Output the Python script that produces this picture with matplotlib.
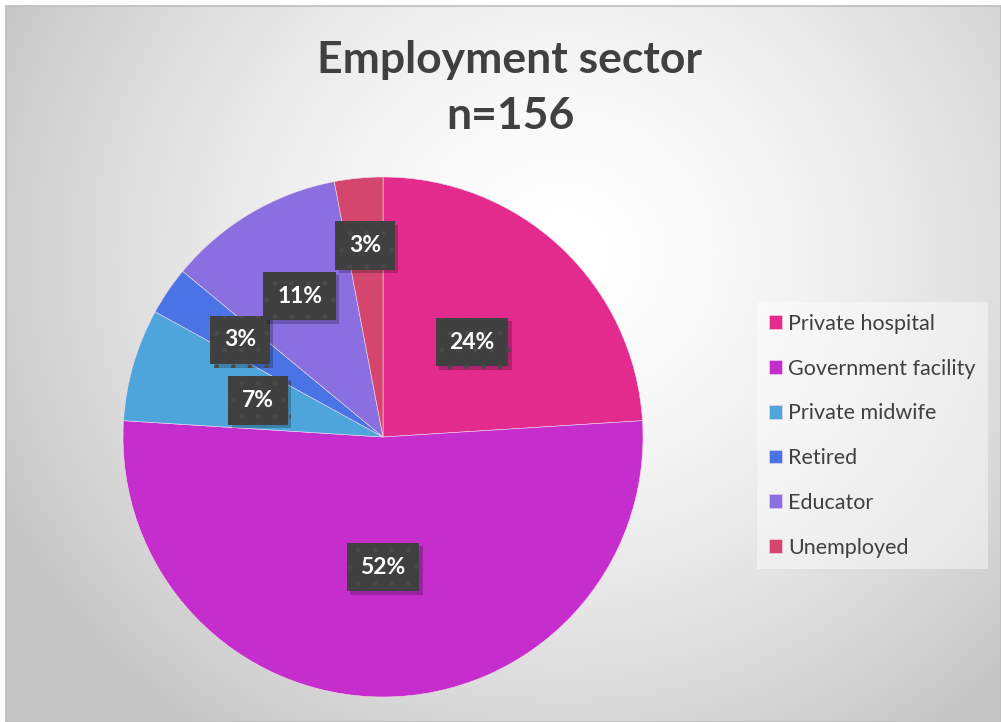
import numpy as np
import matplotlib
matplotlib.use("Agg")
import matplotlib.pyplot as plt
from matplotlib.patches import Rectangle
import matplotlib.patheffects as pe

plt.rcParams['font.family'] = ['Lato', 'DejaVu Sans']

# Employment sector of respondents (percent of n=156)
categories = ["Private hospital", "Government facility", "Private midwife",
              "Retired", "Educator", "Unemployed"]
shares = [24, 52, 7, 3, 11, 3]
colors = ["#E22B8D", "#C52ECD", "#4EA5DB", "#4A74E6", "#8A6FE0", "#D4466E"]
label_radius = [0.5, 0.5, 0.5, 0.665, 0.63, 0.74]
title_text = "Employment sector\nn=156"

W, H = 1001, 722
fig = plt.figure(figsize=(W / 100, H / 100), dpi=100)
fig.patch.set_facecolor("white")

# Radial gradient background of the chart area
bg = fig.add_axes([0, 0, 1, 1])
bg.set_xlim(0, W)
bg.set_ylim(H, 0)
bg.axis("off")
yy, xx = np.mgrid[0:H, 0:W]
d = np.hypot(xx - 560, (yy - 250) * 1.05) / 620.0
v = 1.0 - 0.22 * np.clip(d, 0, 1) ** 1.6
img = np.dstack([v, v, v])
bg.imshow(img, extent=(6, W, H, 6), zorder=0, interpolation="bilinear")
bg.add_patch(Rectangle((6, 6), W - 6, H - 6, fill=False, ec="#bdbdbd", lw=1.2, zorder=1))

# Pie
cx, cy, r = 383, 437, 260
ax = fig.add_axes([(cx - r) / W, (H - cy - r) / H, 2 * r / W, 2 * r / H])
wedges, _ = ax.pie(shares, colors=colors, startangle=90, counterclock=False,
                   radius=1, wedgeprops=dict(linewidth=0.4, edgecolor="#f3d9ea"))
ax.set_xlim(-1, 1)
ax.set_ylim(-1, 1)
ax.set_aspect("equal")
ax.axis("off")

total = float(sum(shares))
cum = np.cumsum([0] + shares)
for i, s in enumerate(shares):
    mid = (cum[i] + s / 2) / total * 360.0
    ang = np.deg2rad(90 - mid)
    rr = label_radius[i]
    t = ax.text(rr * np.cos(ang), rr * np.sin(ang), f"{s}%", ha="center", va="center",
                color="white", fontsize=16.5, fontweight="bold", zorder=5,
                bbox=dict(boxstyle="square,pad=0.6", fc="#404040", ec="#4a4a4a",
                          lw=0, hatch="."))
    t.get_bbox_patch().set_path_effects([
        pe.SimplePatchShadow(offset=(2.5, -2.5), shadow_rgbFace="black", alpha=0.22),
        pe.Normal()])

# Title
fig.text(510 / W, 1 - 88 / H, title_text, ha="center", va="center",
         fontsize=32, fontweight="bold", color="#404040", linespacing=1.5)

# Legend
leg = fig.legend(wedges, categories, loc="upper left",
                 bbox_to_anchor=(757 / W, 1 - 302 / H),
                 fontsize=15.5, frameon=True, fancybox=False,
                 handlelength=0.6, handleheight=0.6, handletextpad=0.3,
                 labelspacing=1.15, borderpad=0.55, borderaxespad=0)
leg.get_frame().set_facecolor("white")
leg.get_frame().set_alpha(0.45)
leg.get_frame().set_edgecolor("none")
for txt in leg.get_texts():
    txt.set_color("#404040")

fig.savefig("out.png", dpi=100)
